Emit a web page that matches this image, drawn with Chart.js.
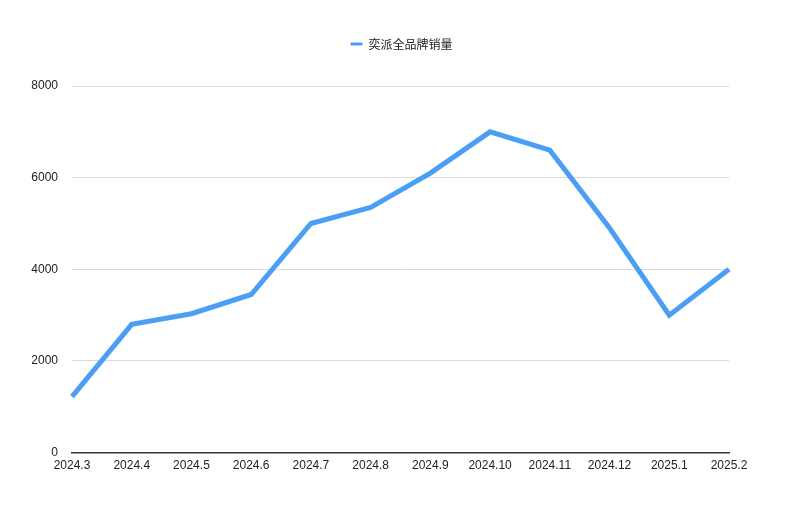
<!DOCTYPE html>
<html>
<head>
<meta charset="utf-8">
<script src="https://cdn.jsdelivr.net/npm/chart.js@4"></script>
<style>
  html, body { margin: 0; padding: 0; background: #fff; }
  #wrap { width: 800px; height: 520px; }
</style>
</head>
<body>
<div id="wrap"><canvas id="myChart"></canvas></div>
<script>
const months = ['2024.3', '2024.4', '2024.5', '2024.6', '2024.7', '2024.8', '2024.9', '2024.10', '2024.11', '2024.12', '2025.1', '2025.2'];
const sales = [1220, 2800, 3030, 3450, 5000, 5350, 6100, 7000, 6600, 4900, 3000, 4000];
const yTicks = [0, 2000, 4000, 6000, 8000];
const seriesName = '奕派全品牌销量';

const fontFamily = "'Liberation Sans', Arial, 'Noto Sans CJK SC', sans-serif";

// legend takes the space above the plot and sits centred on the page
const legendSpace = {
  id: 'legendSpace',
  beforeInit(chart) {
    const origFit = chart.legend.fit;
    chart.legend.fit = function () {
      origFit.bind(chart.legend)();
      this.height = 58;
    };
  },
  afterLayout(chart) {
    chart.legend.left += 22;
    chart.legend.right += 22;
  }
};

const ctx = document.getElementById('myChart').getContext('2d');

new Chart(ctx, {
  type: 'line',
  data: {
    labels: months,
    datasets: [
      {
        label: seriesName,
        data: sales,
        borderColor: '#4a9ff5',
        backgroundColor: '#4a9ff5',
        borderWidth: 5,
        pointRadius: 0,
        pointHoverRadius: 0,
        tension: 0,
        fill: false,
      },
    ],
  },
  options: {
    responsive: true,
    maintainAspectRatio: false,
    animation: false,
    layout: {
      padding: { top: 28, left: 30, right: 71, bottom: 41 },
    },
    scales: {
      x: {
        offset: false,
        grid: { display: false, drawTicks: false },
        border: { display: true, color: '#333', width: 1.5 },
        ticks: {
          color: '#222',
          padding: 6,
          maxRotation: 0,
          autoSkip: false,
          font: { family: fontFamily, size: 12 },
        },
      },
      y: {
        min: 0,
        max: 8000,
        afterBuildTicks(axis) {
          axis.ticks = yTicks.map(v => ({ value: v }));
        },
        afterFit(axis) {
          axis.width = 42;
        },
        grid: { color: '#d9d9d9', drawTicks: false },
        border: { display: false },
        ticks: {
          color: '#222',
          padding: 14,
          font: { family: fontFamily, size: 12 },
          callback: value => String(value),
        },
      },
    },
    plugins: {
      legend: {
        position: 'top',
        labels: {
          usePointStyle: true,
          pointStyle: 'line',
          pointStyleWidth: 12,
          boxWidth: 12,
          padding: 10,
          color: '#222',
          font: { family: "'Noto Sans CJK SC', sans-serif", size: 12 },
          generateLabels(chart) {
            const items = Chart.defaults.plugins.legend.labels.generateLabels(chart);
            items.forEach(item => { item.lineWidth = 3; });
            return items;
          },
        },
      },
      tooltip: { enabled: false },
    },
  },
  plugins: [legendSpace],
});
</script>
</body>
</html>
